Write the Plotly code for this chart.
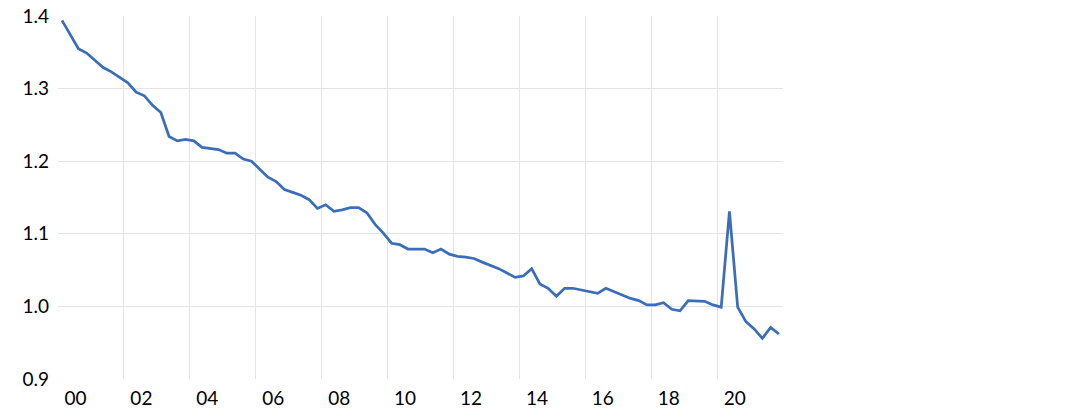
import plotly.graph_objects as go

start_year = 2000
values = [
    1.394, 1.374, 1.355, 1.349, 1.339, 1.329, 1.323, 1.315,
    1.308, 1.295, 1.290, 1.277, 1.267, 1.234, 1.228, 1.230,
    1.228, 1.219, 1.218, 1.216, 1.211, 1.211, 1.203, 1.200,
    1.189, 1.178, 1.172, 1.161, 1.157, 1.153, 1.147, 1.135,
    1.140, 1.131, 1.133, 1.136, 1.136, 1.129, 1.113, 1.101,
    1.087, 1.085, 1.079, 1.079, 1.079, 1.074, 1.079, 1.072,
    1.069, 1.068, 1.066, 1.061, 1.057, 1.052, 1.046, 1.040,
    1.042, 1.052, 1.031, 1.025, 1.014, 1.025, 1.025, 1.023,
    1.021, 1.018, 1.025, 1.020, 1.015, 1.011, 1.008, 1.002,
    1.002, 1.005, 0.996, 0.994, 1.008, 1.007, 1.007, 1.002,
    0.999, 1.131, 0.999, 0.979, 0.969, 0.956, 0.971, 0.962,
]
label_years = list(range(2000, 2021, 2))
tick_labels = [f"{y % 100:02d}" for y in label_years]
y_ticks = [0.9, 1.0, 1.1, 1.2, 1.3, 1.4]
y_grid = [1.0, 1.1, 1.2, 1.3]

x = [start_year + i / 4 for i in range(len(values))]
x_grid = [y + 1.875 for y in label_years[:-1]]

fig = go.Figure()
fig.add_trace(go.Scatter(
    x=x, y=values, mode="lines",
    line=dict(color="#3C6DB8", width=2.75),
    showlegend=False, hoverinfo="skip",
))

font = dict(family="Lato, Carlito, sans-serif", size=19, color="#000000")
fig.update_layout(
    width=1088, height=419,
    margin=dict(l=58, r=305, t=16, b=40),
    paper_bgcolor="white", plot_bgcolor="white",
    font=font,
    xaxis=dict(
        range=[1999.88, 2021.875],
        tickmode="array",
        tickvals=[y + 0.41 for y in label_years],
        ticktext=tick_labels,
        showgrid=False, zeroline=False, showline=False, ticks="",
        ticklabelstandoff=6, automargin=False,
        minor=dict(tickmode="array", tickvals=x_grid, showgrid=True,
                   gridcolor="#E4E4E4", gridwidth=1, ticks=""),
    ),
    yaxis=dict(
        range=[0.9, 1.4],
        tickmode="array",
        tickvals=y_ticks,
        ticktext=[f"{v:.1f}" for v in y_ticks],
        showgrid=False, zeroline=False, showline=False, ticks="",
        ticklabelstandoff=8, automargin=False, ticklabeloverflow="allow",
        minor=dict(tickmode="array", tickvals=y_grid, showgrid=True,
                   gridcolor="#E4E4E4", gridwidth=1, ticks=""),
    ),
)

fig.write_html(
    "out.html",
    config={"displayModeBar": False, "staticPlot": True},
    post_script="document.body.style.margin='0';document.body.style.overflow='hidden';",
)
